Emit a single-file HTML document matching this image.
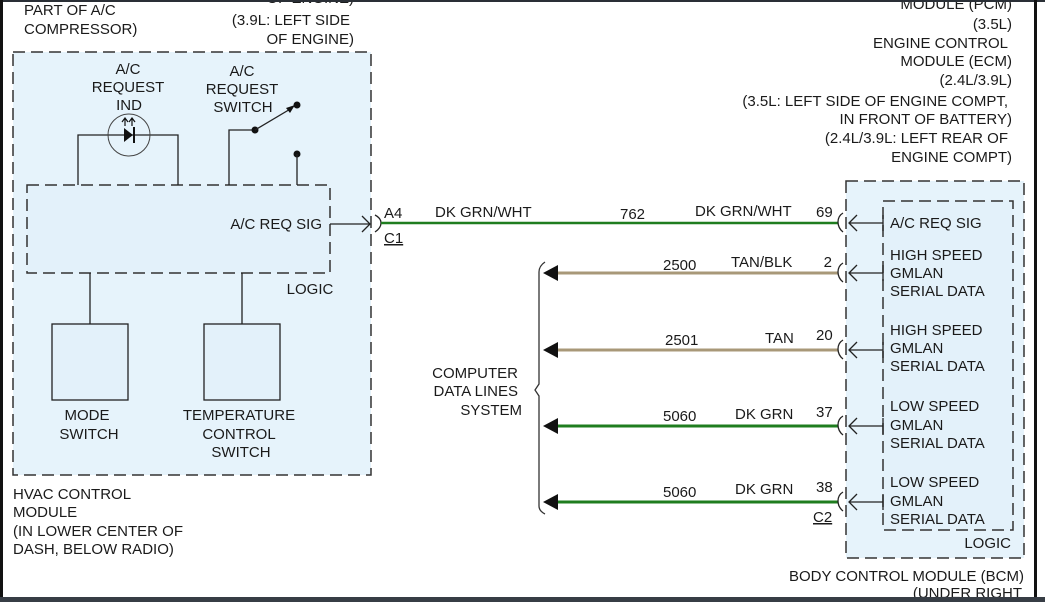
<!DOCTYPE html>
<html><head><meta charset="utf-8"><style>
html,body{margin:0;padding:0;background:#fff;}
svg{display:block;}
text{font-family:"Liberation Sans",Arial,sans-serif;font-size:15px;fill:#1a1a1a;}
</style></head><body>
<svg width="1045" height="602" viewBox="0 0 1045 602">
<rect x="0" y="0" width="1045" height="602" fill="#fff"/>
<!-- top-left labels -->
<text x="24" y="15">PART OF A/C</text>
<text x="24" y="34">COMPRESSOR)</text>
<text x="354" y="3" text-anchor="end">OF ENGINE)</text>
<text x="350" y="25" text-anchor="end">(3.9L: LEFT SIDE</text>
<text x="354" y="44" text-anchor="end">OF ENGINE)</text>

<!-- top-right labels -->
<g text-anchor="end">
<text x="1012" y="9">MODULE (PCM)</text>
<text x="1012" y="29">(3.5L)</text>
<text x="1008" y="48">ENGINE CONTROL</text>
<text x="1012" y="66">MODULE (ECM)</text>
<text x="1012" y="85">(2.4L/3.9L)</text>
<text x="1008" y="106">(3.5L: LEFT SIDE OF ENGINE COMPT,</text>
<text x="1012" y="124">IN FRONT OF BATTERY)</text>
<text x="1008" y="143">(2.4L/3.9L: LEFT REAR OF</text>
<text x="1012" y="162">ENGINE COMPT)</text>
</g>

<!-- HVAC module -->
<rect x="13" y="52" width="358" height="423" fill="#e6f3fb" stroke="#333" stroke-width="1.5" stroke-dasharray="12,6"/>
<rect x="27" y="185" width="303" height="88" fill="#e3f1fa" stroke="#333" stroke-width="1.5" stroke-dasharray="12,6"/>
<text x="310" y="294" text-anchor="middle">LOGIC</text>
<g text-anchor="middle">
<text x="128" y="74">A/C</text>
<text x="128" y="92">REQUEST</text>
<text x="129" y="110">IND</text>
<text x="242" y="76">A/C</text>
<text x="242" y="94">REQUEST</text>
<text x="243" y="112">SWITCH</text>
</g>
<!-- LED -->
<polyline points="78,185 78,135 178,135 178,185" fill="none" stroke="#222" stroke-width="1.3"/>
<circle cx="129" cy="135" r="21" fill="none" stroke="#444" stroke-width="1"/>
<polygon points="124,128 124,142 133,135" fill="#111"/>
<line x1="134" y1="127" x2="134" y2="143" stroke="#111" stroke-width="2"/>
<path d="M125,126 L125,119 M122,122 L125,118 L128,122 M132,126 L132,119 M129,122 L132,118 L135,122" stroke="#111" stroke-width="1.2" fill="none"/>
<!-- switch -->
<polyline points="229,185 229,130 255,130" fill="none" stroke="#222" stroke-width="1.3"/>
<circle cx="255" cy="130" r="3.5" fill="#111"/>
<line x1="255" y1="130" x2="292" y2="108" stroke="#222" stroke-width="1.3"/>
<polygon points="286,108 295,105 290,113" fill="#111"/>
<circle cx="297" cy="105" r="3.5" fill="#111"/>
<circle cx="297" cy="154" r="3.5" fill="#111"/>
<line x1="297" y1="154" x2="297" y2="185" stroke="#222" stroke-width="1.3"/>
<text x="322" y="229" text-anchor="end">A/C REQ SIG</text>
<line x1="330" y1="224" x2="370" y2="224" stroke="#222" stroke-width="1.3"/>
<polyline points="362,216 370,224 362,232" fill="none" stroke="#222" stroke-width="1.3"/>
<path d="M375,215 Q381,218 381,223 Q381,228 375,232" fill="none" stroke="#222" stroke-width="1.3"/>
<!-- switches -->
<line x1="90" y1="273" x2="90" y2="324" stroke="#222" stroke-width="1.3"/>
<line x1="242" y1="273" x2="242" y2="324" stroke="#222" stroke-width="1.3"/>
<rect x="52" y="324" width="76" height="76" fill="#e3f1fa" stroke="#222" stroke-width="1.3"/>
<rect x="204" y="324" width="76" height="76" fill="#e3f1fa" stroke="#222" stroke-width="1.3"/>
<g text-anchor="middle">
<text x="87" y="420">MODE</text>
<text x="89" y="439">SWITCH</text>
<text x="239" y="420">TEMPERATURE</text>
<text x="239" y="439">CONTROL</text>
<text x="241" y="457">SWITCH</text>
</g>
<text x="13" y="499">HVAC CONTROL</text>
<text x="13" y="517">MODULE</text>
<text x="13" y="536">(IN LOWER CENTER OF</text>
<text x="13" y="554">DASH, BELOW RADIO)</text>

<!-- main wire -->
<line x1="381" y1="223" x2="838" y2="223" stroke="#1f7d1f" stroke-width="2.5"/>
<text x="384" y="218">A4</text>
<text x="384" y="243" text-decoration="underline">C1</text>
<text x="435" y="217">DK GRN/WHT</text>
<text x="620" y="219">762</text>
<text x="695" y="216">DK GRN/WHT</text>
<text x="816" y="217">69</text>

<!-- data wires -->
<g stroke-width="3">
<line x1="555" y1="273" x2="838" y2="273" stroke="#a89878"/>
<line x1="555" y1="350" x2="838" y2="350" stroke="#a89878"/>
<line x1="555" y1="426" x2="838" y2="426" stroke="#1f7d1f"/>
<line x1="555" y1="502" x2="838" y2="502" stroke="#1f7d1f"/>
</g>
<g fill="#111">
<polygon points="543,273 558,265 558,281"/>
<polygon points="543,350 558,342 558,358"/>
<polygon points="543,426 558,418 558,434"/>
<polygon points="543,502 558,494 558,510"/>
</g>
<path d="M545,262 Q539,266 539,272 L539,384 L535,390 L539,396 L539,506 Q539,511 545,514" fill="none" stroke="#333" stroke-width="1.3"/>
<g text-anchor="end">
<text x="518" y="378">COMPUTER</text>
<text x="518" y="396">DATA LINES</text>
<text x="522" y="415">SYSTEM</text>
</g>
<text x="663" y="270">2500</text>
<text x="731" y="267">TAN/BLK</text>
<text x="832" y="267" text-anchor="end">2</text>
<text x="665" y="345">2501</text>
<text x="765" y="343">TAN</text>
<text x="816" y="340">20</text>
<text x="663" y="421">5060</text>
<text x="735" y="419">DK GRN</text>
<text x="816" y="417">37</text>
<text x="663" y="497">5060</text>
<text x="735" y="494">DK GRN</text>
<text x="816" y="492">38</text>
<text x="813" y="522" text-decoration="underline">C2</text>

<!-- BCM -->
<rect x="846" y="181" width="178" height="377" fill="#e6f3fb" stroke="#333" stroke-width="1.5" stroke-dasharray="12,6"/>
<rect x="883" y="201" width="130" height="329" fill="#e3f1fa" stroke="#333" stroke-width="1.5" stroke-dasharray="12,6"/>
<text x="1011" y="548" text-anchor="end">LOGIC</text>
<g stroke="#222" stroke-width="1.3" fill="none">
<path d="M843,213 Q838,216 838,222 Q838,228 843,232"/>
<path d="M843,263 Q838,266 838,272 Q838,278 843,282"/>
<path d="M843,340 Q838,343 838,349 Q838,355 843,359"/>
<path d="M843,416 Q838,419 838,425 Q838,431 843,435"/>
<path d="M843,492 Q838,495 838,501 Q838,507 843,511"/>
<line x1="849" y1="223" x2="883" y2="223"/><polyline points="857,215 849,223 857,231"/><line x1="883" y1="215" x2="883" y2="231"/>
<line x1="849" y1="273" x2="883" y2="273"/><polyline points="857,265 849,273 857,281"/><line x1="883" y1="265" x2="883" y2="281"/>
<line x1="849" y1="350" x2="883" y2="350"/><polyline points="857,342 849,350 857,358"/><line x1="883" y1="342" x2="883" y2="358"/>
<line x1="849" y1="426" x2="883" y2="426"/><polyline points="857,418 849,426 857,434"/><line x1="883" y1="418" x2="883" y2="434"/>
<line x1="849" y1="502" x2="883" y2="502"/><polyline points="857,494 849,502 857,510"/><line x1="883" y1="494" x2="883" y2="510"/>
</g>
<text x="890" y="228">A/C REQ SIG</text>
<text x="890" y="260">HIGH SPEED</text>
<text x="890" y="278">GMLAN</text>
<text x="890" y="296">SERIAL DATA</text>
<text x="890" y="335">HIGH SPEED</text>
<text x="890" y="353">GMLAN</text>
<text x="890" y="371">SERIAL DATA</text>
<text x="890" y="411">LOW SPEED</text>
<text x="890" y="430">GMLAN</text>
<text x="890" y="448">SERIAL DATA</text>
<text x="890" y="487">LOW SPEED</text>
<text x="890" y="506">GMLAN</text>
<text x="890" y="524">SERIAL DATA</text>
<text x="1024" y="581" text-anchor="end">BODY CONTROL MODULE (BCM)</text>
<text x="1022" y="598" text-anchor="end">(UNDER RIGHT</text>
<!-- frame -->
<rect x="0" y="0" width="1045" height="2" fill="#2a2f36"/>
<rect x="0" y="0" width="3" height="602" fill="#111"/>
<rect x="1034" y="0" width="3" height="597" fill="#111"/>
<rect x="0" y="597" width="1045" height="5" fill="#373d45"/>
</svg>
</body></html>
